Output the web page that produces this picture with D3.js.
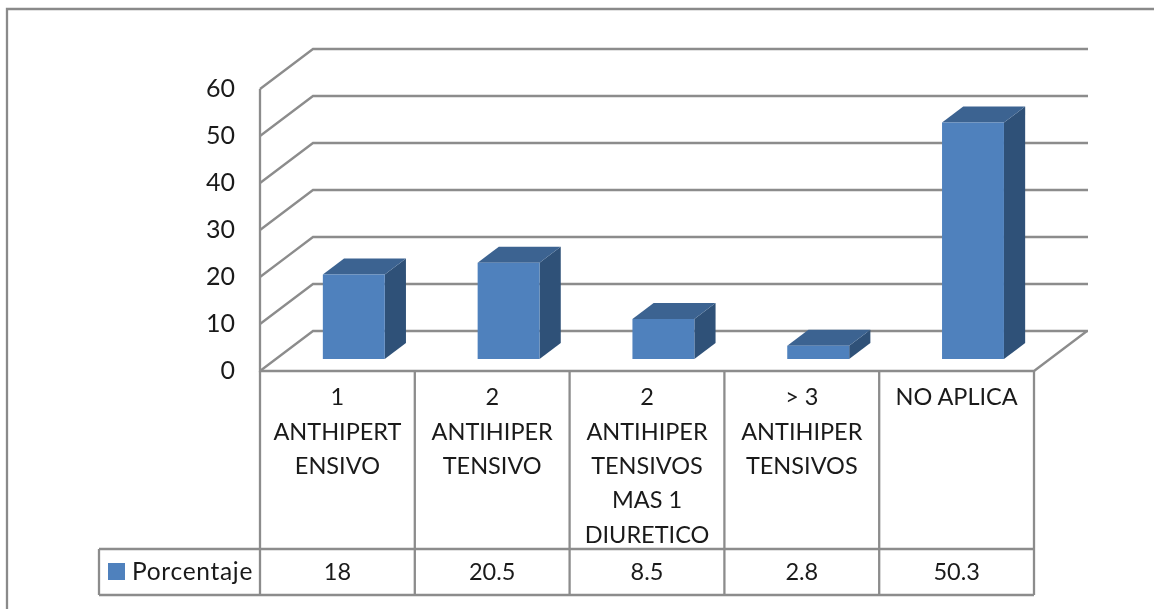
<!DOCTYPE html>
<html><head><meta charset="utf-8">
<script src="https://cdn.jsdelivr.net/npm/d3@7"></script>
<style>html,body{margin:0;padding:0;background:#fff;overflow:hidden}svg{display:block;filter:blur(0.35px)}
text{font-family:Lato,"Open Sans",sans-serif;fill:#1a1a1a}</style></head><body>
<svg id="c" width="1154" height="609"></svg>
<script>
const categories = ["1 ANTHIPERT ENSIVO","2 ANTIHIPER TENSIVO","2 ANTIHIPER TENSIVOS MAS 1 DIURETICO","> 3 ANTIHIPER TENSIVOS","NO APLICA"];
const categoryLines = [["1","ANTHIPERT","ENSIVO"],["2","ANTIHIPER","TENSIVO"],["2","ANTIHIPER","TENSIVOS","MAS 1","DIURETICO"],["> 3","ANTIHIPER","TENSIVOS"],["NO APLICA"]];
const values = [18,20.5,8.5,2.8,50.3];
const valueLabels = ["18","20.5","8.5","2.8","50.3"];
const yTicks = [0,10,20,30,40,50,60];
const seriesName = "Porcentaje";

const gridC="#8c8c8c", frontC="#4f81bd", topC="#3c6391", sideC="#2f5178";
const svg=d3.select("#c");
const x=d3.scaleBand().domain(categories).range([260.5,1034.5]).paddingInner(0.6).paddingOuter(0.3);
const col=d3.scaleBand().domain(categories).range([260,1034]);
const y=d3.scaleLinear().domain([0,60]).range([371,89]);
const depth=d3.scaleLinear().domain([0,1]).range([0,53]);
const depthY=d3.scaleLinear().domain([0,1]).range([0,-40]);
const P=(px,v,d)=>[px+depth(d),y(v)+depthY(d)];
const line=d3.line();
const SW=2.3;

// outer frame
svg.append("path").attr("d",line([[7,609],[7,9],[1154,9]])).attr("fill","none").attr("stroke","#8a8a8a").attr("stroke-width",SW);

// gridlines (wall + side wall)
svg.append("g").selectAll("path").data(yTicks).join("path")
 .attr("d",t=>line([P(260,t,0),P(260,t,1),P(1035,t,1)]))
 .attr("fill","none").attr("stroke",gridC).attr("stroke-width",SW);
// floor edges and axis
svg.append("path").attr("d",line([[260,y(60)],[260,y(0)],[1034,y(0)],P(1034,0,1)])).attr("fill","none").attr("stroke",gridC).attr("stroke-width",SW);

// y tick labels
svg.append("g").selectAll("text").data(yTicks).join("text")
 .attr("x",235).attr("y",t=>y(t)-1).attr("dy","0.35em").attr("text-anchor","end").attr("font-size",25).text(d=>d);

// bars
const dFront=0.3, dBack=0.7;
const bars=svg.append("g").selectAll("g").data(categories).join("g");
bars.append("path").attr("fill",sideC).attr("d",(c,i)=>{const r=x(c)+x.bandwidth();
  return line([P(r,0,dFront),P(r,0,dBack),P(r,values[i],dBack),P(r,values[i],dFront)])+"Z";});
bars.append("path").attr("fill",topC).attr("d",(c,i)=>{const l=x(c),r=l+x.bandwidth(),v=values[i];
  return line([P(l,v,dFront),P(l,v,dBack),P(r,v,dBack),P(r,v,dFront)])+"Z";});
bars.append("path").attr("fill",frontC).attr("d",(c,i)=>{const l=x(c),r=l+x.bandwidth(),v=values[i];
  return line([P(l,0,dFront),P(r,0,dFront),P(r,v,dFront),P(l,v,dFront)])+"Z";});

// data table
const tBottom=595,tMid=549,tLeft=99;
const grid=svg.append("g").attr("fill","none").attr("stroke",gridC).attr("stroke-width",SW);
grid.append("path").attr("d",line([[tLeft,tMid],[1034,tMid]]));
grid.append("path").attr("d",line([[tLeft,tBottom],[1034,tBottom]]));
grid.append("path").attr("d",line([[tLeft,tMid],[tLeft,tBottom]]));
grid.selectAll(".v").data([...categories.map(c=>col(c)),1034]).join("path").attr("class","v")
 .attr("d",d=>line([[d,y(0)],[d,tBottom]]));

const lh=34.4;
const cat=svg.append("g").selectAll("g").data(categories).join("g");
cat.each(function(c,i){d3.select(this).selectAll("text").data(categoryLines[i]).join("text")
  .attr("x",col(c)+col.bandwidth()/2).attr("y",(d,j)=>397+j*lh).attr("dy","0.35em")
  .attr("text-anchor","middle").attr("font-size",23.5).text(d=>d);});
svg.append("g").selectAll("text").data(categories).join("text")
 .attr("x",c=>col(c)+col.bandwidth()/2).attr("y",572).attr("dy","0.35em")
 .attr("text-anchor","middle").attr("font-size",23.5).text((c,i)=>valueLabels[i]);
svg.append("rect").attr("x",108).attr("y",563).attr("width",17).attr("height",17).attr("fill",frontC);
svg.append("text").attr("x",132).attr("y",571).attr("dy","0.35em").attr("font-size",24.5).attr("letter-spacing",0.7).text(seriesName);
</script></body></html>
